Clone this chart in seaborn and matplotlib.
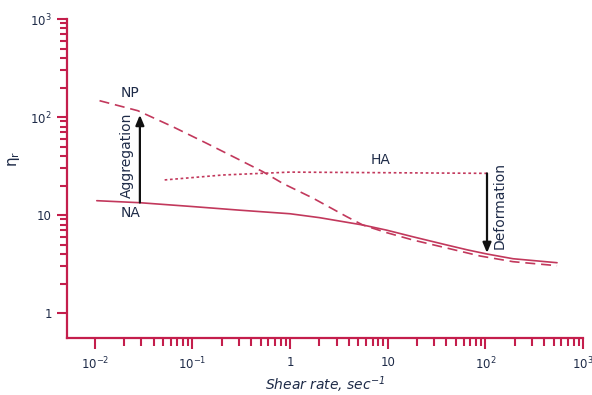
import matplotlib
matplotlib.use("Agg")
import matplotlib.pyplot as plt
from matplotlib.ticker import FixedLocator, NullFormatter
import numpy as np
import pandas as pd
import seaborn as sns

# Values (log-log axes)
na_shear = [0.0105, 0.029, 0.1, 0.306, 1.0, 2.0, 5.6, 9.8, 18.1, 40.4, 66, 104, 192, 542]
na_visc = [14.0, 13.35, 12.2, 11.2, 10.3, 9.4, 7.9, 7.0, 6.0, 4.94, 4.4, 4.0, 3.58, 3.26]

np_shear = [0.0112, 0.0276, 0.063, 0.14, 0.306, 0.526, 0.843, 1.71, 3.82, 5.57,
            9.8, 18.1, 40.4, 88, 192, 542]
np_visc = [146.7, 116, 79.6, 53.9, 36.4, 27.7, 21.0, 14.9, 9.6, 7.9,
           6.6, 5.56, 4.6, 3.82, 3.34, 3.04]

ha_shear = [0.052, 0.205, 1.0, 10.5, 111]
ha_visc = [22.8, 25.6, 27.4, 27.0, 26.6]

agg_x, agg_from, agg_to = 0.029, 13.4, 105
def_x, def_from, def_to = 104, 26.6, 4.1

x_major = [1e-2, 1e-1, 1, 10, 1e2, 1e3]
x_major_labels = ["$10^{-2}$", "$10^{-1}$", "1", "10", "$10^{2}$", "$10^{3}$"]
y_major = [1, 10, 1e2, 1e3]
y_major_labels = ["1", "10", "$10^{2}$", "$10^{3}$"]

df = pd.concat([
    pd.DataFrame({"shear": na_shear, "visc": na_visc, "state": "NA"}),
    pd.DataFrame({"shear": np_shear, "visc": np_visc, "state": "NP"}),
    pd.DataFrame({"shear": ha_shear, "visc": ha_visc, "state": "HA"}),
])

axis_col = "#C41E4C"
line_col = "#C2385C"
text_col = "#1E2B48"

sns.set_style("ticks")
plt.rcParams["font.family"] = ["DejaVu Sans"]
plt.rcParams["mathtext.default"] = "regular"

fig = plt.figure(figsize=(5.92, 3.95), dpi=100)
ax = fig.add_axes([67 / 592, 57 / 395, 516 / 592, 319 / 395])

sns.lineplot(data=df, x="shear", y="visc", hue="state", style="state",
             palette={"NA": line_col, "NP": line_col, "HA": line_col},
             dashes={"NA": "", "NP": (6, 3.5), "HA": (1.6, 1.6)},
             linewidth=1.2, sort=False, legend=False, ax=ax)

ax.set_xscale("log")
ax.set_yscale("log")
ax.set_xlim(0.0052, 1000)
ax.set_ylim(0.556, 1000)

# arrows
ax.annotate("", xy=(agg_x, agg_to), xytext=(agg_x, agg_from),
            arrowprops=dict(arrowstyle="-|>,head_length=0.6,head_width=0.25",
                            color="#111111", lw=1.6, shrinkA=0, shrinkB=0))
ax.annotate("", xy=(def_x, def_to), xytext=(def_x, def_from),
            arrowprops=dict(arrowstyle="-|>,head_length=0.6,head_width=0.25",
                            color="#111111", lw=1.6, shrinkA=0, shrinkB=0))

ax.text(0.0211, 41, "Aggregation", rotation=90, ha="center", va="center",
        fontsize=10, color=text_col)
ax.text(139, 12.6, "Deformation", rotation=90, ha="center", va="center",
        fontsize=10, color=text_col)
ax.text(0.0229, 176, "NP", ha="center", va="center", fontsize=10, color=text_col)
ax.text(0.0232, 10.4, "NA", ha="center", va="center", fontsize=10, color=text_col)
ax.text(8.5, 36.4, "HA", ha="center", va="center", fontsize=10, color=text_col)

# ticks
ax.xaxis.set_major_locator(FixedLocator(x_major))
ax.set_xticklabels(x_major_labels)
x_minor = [m * 10.0 ** e for e in range(-2, 3) for m in range(2, 10)]
ax.xaxis.set_minor_locator(FixedLocator(x_minor))
ax.xaxis.set_minor_formatter(NullFormatter())

ax.yaxis.set_major_locator(FixedLocator(y_major))
ax.set_yticklabels(y_major_labels)
y_minor = [m * 10.0 ** e for e in range(0, 3) for m in range(2, 10)]
ax.yaxis.set_minor_locator(FixedLocator(y_minor))
ax.yaxis.set_minor_formatter(NullFormatter())

ax.tick_params(axis="x", which="major", length=8, width=1.5, color=axis_col,
               labelsize=8.5, labelcolor=text_col, pad=5)
ax.tick_params(axis="x", which="minor", length=6, width=1.5, color=axis_col)
ax.tick_params(axis="y", which="major", length=7, width=1.5, color=axis_col,
               labelsize=8.5, labelcolor=text_col, pad=4)
ax.tick_params(axis="y", which="minor", length=5, width=1.5, color=axis_col)

for side in ["top", "right"]:
    ax.spines[side].set_visible(False)
for side in ["left", "bottom"]:
    ax.spines[side].set_color(axis_col)
    ax.spines[side].set_linewidth(1.6)

ax.set_xlabel("Shear rate, sec$^{-1}$", fontsize=10, style="italic",
              color=text_col)
ax.xaxis.set_label_coords(0.5, -0.115)
ax.set_ylabel(r"$\eta_r$", fontsize=11, color=text_col)
ax.yaxis.set_label_coords(-0.087, 0.56)

fig.savefig("out.png", dpi=100)
